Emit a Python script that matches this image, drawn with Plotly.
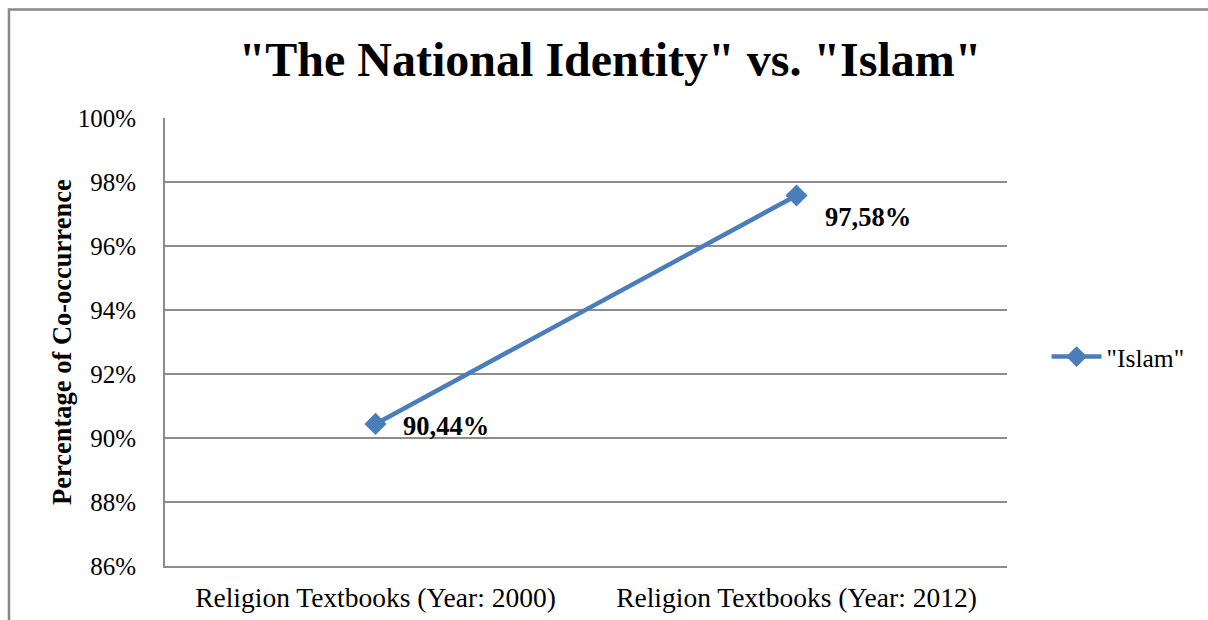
import plotly.graph_objects as go

categories = ["Religion Textbooks (Year: 2000)", "Religion Textbooks (Year: 2012)"]
islam_values = [90.44, 97.58]
value_labels = ["90,44%", "97,58%"]
y_ticks = [86, 88, 90, 92, 94, 96, 98, 100]
y_tick_labels = ["86%", "88%", "90%", "92%", "94%", "96%", "98%", "100%"]

SERIF = "Liberation Serif, Times New Roman, serif"
BLUE = "#4A7EBB"
GRID = "#8C8C8C"

fig = go.Figure()
fig.add_trace(go.Scatter(
    x=categories, y=islam_values, name='"Islam"',
    mode="lines+markers",
    line=dict(color=BLUE, width=4.5),
    marker=dict(symbol="diamond", size=17, color=BLUE),
))

# value labels beside each point
label_offsets = [(25, -2), (26, -22)]
for cat, val, txt, (dx, dy) in zip(categories, islam_values, value_labels, label_offsets):
    fig.add_annotation(
        x=cat, y=val, text=f"<b>{txt}</b>", showarrow=False,
        xanchor="left", yanchor="middle", xshift=dx, yshift=dy,
        font=dict(family=SERIF, size=26.5, color="black"),
    )

# y-axis title, rotated
fig.add_annotation(
    xref="paper", yref="paper", x=-0.1223, y=0.5,
    xanchor="center", yanchor="middle", textangle=-90, showarrow=False,
    text="<b>Percentage of Co-occurrence</b>",
    font=dict(family=SERIF, size=26.5, color="black"),
)

# chart frame
fig.add_shape(type="rect", xref="paper", yref="paper",
              x0=-0.1853, y0=-0.4, x1=1.4, y1=1.2422,
              line=dict(color="#888888", width=2.5), layer="below")

fig.update_layout(
    width=1208, height=620,
    margin=dict(l=165, r=201, t=118, b=54),
    paper_bgcolor="white", plot_bgcolor="white",
    title=dict(text='<b>"The National Identity" vs. "Islam"</b>',
               x=0.505, xanchor="center", y=0.905, yanchor="middle",
               font=dict(family=SERIF, size=48, color="black")),
    showlegend=True,
    legend=dict(x=1.047, xanchor="left", y=0.4665, yanchor="middle",
                font=dict(family=SERIF, size=25.5, color="black"),
                bgcolor="rgba(0,0,0,0)", itemwidth=50),
    xaxis=dict(type="category", range=[-0.5, 1.5], automargin=False,
               showline=True, linecolor=GRID, linewidth=2,
               showgrid=False, ticks="", ticklen=0, ticklabelstandoff=6,
               tickfont=dict(family=SERIF, size=27.5, color="black")),
    yaxis=dict(range=[86, 100], tickvals=y_ticks, ticktext=y_tick_labels,
               automargin=False,
               showline=True, linecolor=GRID, linewidth=2,
               showgrid=True, gridcolor=GRID, gridwidth=1.5,
               zeroline=False, ticks="", ticklen=0, ticklabelstandoff=22,
               tickfont=dict(family=SERIF, size=25, color="black")),
)

fig.write_html("out.html")
